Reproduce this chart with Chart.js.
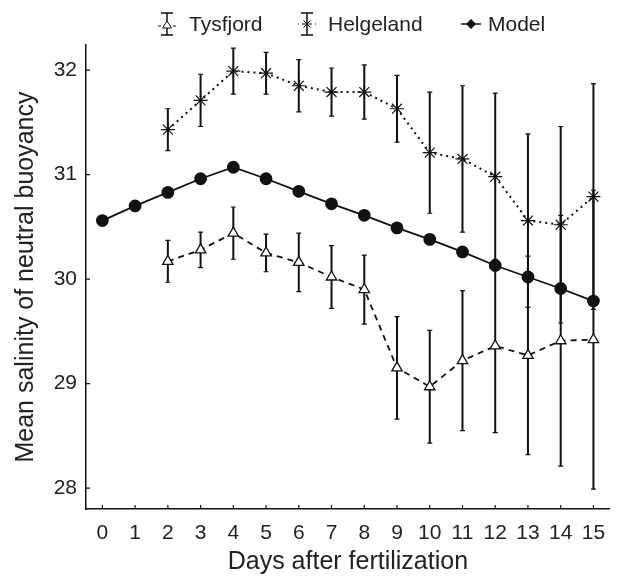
<!DOCTYPE html>
<html>
<head>
<meta charset="utf-8">
<script src="https://cdn.jsdelivr.net/npm/chart.js@4.4.1/dist/chart.umd.min.js"></script>
<style>
  html, body { margin: 0; padding: 0; background: #fff; }
  #wrap { width: 618px; height: 578px; }
</style>
</head>
<body>
<div id="wrap"><canvas id="chart"></canvas></div>
<script>
// values
const modelDays = [0, 1, 2, 3, 4, 5, 6, 7, 8, 9, 10, 11, 12, 13, 14, 15];
const modelMean = [30.56, 30.70, 30.83, 30.96, 31.07, 30.96, 30.84, 30.72, 30.61, 30.49, 30.38, 30.26, 30.13, 30.02, 29.91, 29.79];

const obsDays = [2, 3, 4, 5, 6, 7, 8, 9, 10, 11, 12, 13, 14, 15];
const helgelandMean = [31.43, 31.71, 31.99, 31.97, 31.85, 31.79, 31.79, 31.63, 31.21, 31.15, 30.98, 30.56, 30.52, 30.79];
const helgelandErr  = [0.20, 0.25, 0.22, 0.20, 0.25, 0.23, 0.26, 0.32, 0.58, 0.70, 0.80, 0.83, 0.94, 1.08];
const tysfjordMean  = [30.17, 30.28, 30.44, 30.25, 30.16, 30.02, 29.90, 29.15, 28.97, 29.22, 29.36, 29.27, 29.41, 29.42];
const tysfjordErr   = [0.20, 0.17, 0.25, 0.18, 0.28, 0.30, 0.33, 0.49, 0.54, 0.67, 0.83, 0.95, 1.20, 1.43];

const xTicks = [0, 1, 2, 3, 4, 5, 6, 7, 8, 9, 10, 11, 12, 13, 14, 15];
const yTicks = [28, 29, 30, 31, 32];

const ink = '#111';
const textInk = '#222';
const fontFamily = 'Liberation Sans, Arial, sans-serif';

const toPoints = (xs, ys) => xs.map((x, i) => ({ x: x, y: ys[i] }));

// legend icons drawn straight onto the chart canvas
function drawIcon(g, kind, cx, cy) {
    g.save();
    g.strokeStyle = ink; g.fillStyle = ink; g.lineWidth = 1.5;
    if (kind === 'model') {
        g.beginPath(); g.moveTo(cx - 10, cy); g.lineTo(cx + 10, cy); g.stroke();
        g.beginPath(); g.moveTo(cx, cy - 5); g.lineTo(cx + 5, cy); g.lineTo(cx, cy + 5); g.lineTo(cx - 5, cy); g.closePath(); g.fill();
        g.restore();
        return;
    }
    g.beginPath();
    g.moveTo(cx, cy - 11); g.lineTo(cx, cy + 11);
    g.moveTo(cx - 6, cy - 11); g.lineTo(cx + 6, cy - 11);
    g.moveTo(cx - 6, cy + 11); g.lineTo(cx + 6, cy + 11);
    g.stroke();
    g.lineWidth = 1;
    if (kind === 'triangle') {
        g.fillStyle = '#fff';
        g.beginPath(); g.moveTo(cx, cy - 3); g.lineTo(cx + 4.5, cy + 4); g.lineTo(cx - 4.5, cy + 4); g.closePath(); g.fill(); g.stroke();
        g.beginPath(); g.moveTo(cx - 9, cy + 2); g.lineTo(cx - 6, cy + 2); g.moveTo(cx + 6, cy + 2); g.lineTo(cx + 9, cy + 2); g.stroke();
    } else {
        g.beginPath();
        g.moveTo(cx - 5, cy); g.lineTo(cx + 5, cy);
        g.moveTo(cx - 3.5, cy - 3.5); g.lineTo(cx + 3.5, cy + 3.5);
        g.moveTo(cx + 3.5, cy - 3.5); g.lineTo(cx - 3.5, cy + 3.5);
        g.stroke();
        g.beginPath(); g.moveTo(cx - 9, cy); g.lineTo(cx - 8, cy); g.moveTo(cx + 8, cy); g.lineTo(cx + 9, cy); g.stroke();
    }
    g.restore();
}

const legendSlots = [
    { icon: 167, text: 189 },
    { icon: 307, text: 328 },
    { icon: 471, text: 488 }
];

const topLegend = {
    id: 'topLegend',
    afterDraw(chart) {
        const g = chart.ctx;
        g.save();
        g.font = '21px ' + fontFamily;
        g.fillStyle = textInk;
        g.textBaseline = 'middle';
        g.textAlign = 'left';
        chart.data.datasets.forEach((ds, i) => {
            const slot = legendSlots[i];
            drawIcon(g, ds.legendKind, slot.icon, 24);
            g.fillText(ds.label, slot.text, 25);
        });
        g.restore();
    }
};

// vertical error bars drawn through the chart's scales
const errorBars = {
    id: 'errorBars',
    beforeDatasetsDraw(chart) {
        const { ctx, scales: { x, y } } = chart;
        ctx.save();
        ctx.strokeStyle = ink;
        chart.data.datasets.forEach(ds => {
            if (!ds.errors) return;
            ds.data.forEach((p, j) => {
                const px = x.getPixelForValue(p.x);
                const top = y.getPixelForValue(p.y + ds.errors[j]);
                const bot = y.getPixelForValue(p.y - ds.errors[j]);
                ctx.lineWidth = 2;
                ctx.beginPath(); ctx.moveTo(px, top); ctx.lineTo(px, bot); ctx.stroke();
                ctx.lineWidth = 1.2;
                ctx.beginPath();
                ctx.moveTo(px - 2.5, top); ctx.lineTo(px + 2.5, top);
                ctx.moveTo(px - 2.5, bot); ctx.lineTo(px + 2.5, bot);
                ctx.stroke();
            });
        });
        ctx.restore();
    }
};

// short inward tick marks
const innerTicks = {
    id: 'innerTicks',
    afterDraw(chart) {
        const { ctx, chartArea, scales: { x, y } } = chart;
        ctx.save();
        ctx.strokeStyle = ink; ctx.lineWidth = 1.2;
        ctx.beginPath();
        xTicks.forEach(v => {
            const px = x.getPixelForValue(v);
            ctx.moveTo(px, chartArea.bottom); ctx.lineTo(px, chartArea.bottom - 4);
        });
        yTicks.forEach(v => {
            const py = y.getPixelForValue(v);
            ctx.moveTo(chartArea.left, py); ctx.lineTo(chartArea.left + 4, py);
        });
        ctx.stroke();
        ctx.restore();
    }
};

new Chart(document.getElementById('chart'), {
    type: 'line',
    data: {
        datasets: [
            {
                label: 'Tysfjord',
                legendKind: 'triangle',
                data: toPoints(obsDays, tysfjordMean),
                errors: tysfjordErr,
                borderColor: ink,
                borderWidth: 1.8,
                borderDash: [6, 5],
                pointStyle: 'triangle',
                pointRadius: 6,
                pointBorderWidth: 1.3,
                pointBorderColor: ink,
                pointBackgroundColor: '#fff'
            },
            {
                label: 'Helgeland',
                legendKind: 'star',
                data: toPoints(obsDays, helgelandMean),
                errors: helgelandErr,
                borderColor: ink,
                borderWidth: 2,
                borderDash: [2, 4],
                pointStyle: 'star',
                pointRadius: 7,
                pointBorderWidth: 1.2,
                pointBorderColor: ink
            },
            {
                label: 'Model',
                legendKind: 'model',
                data: toPoints(modelDays, modelMean),
                borderColor: ink,
                borderWidth: 1.8,
                pointStyle: 'circle',
                pointRadius: 5.5,
                pointBackgroundColor: ink,
                pointBorderColor: ink
            }
        ]
    },
    options: {
        responsive: true,
        maintainAspectRatio: false,
        animation: false,
        layout: { padding: { top: 45, right: 4, left: 0, bottom: 0 } },
        plugins: {
            tooltip: { enabled: false },
            legend: { display: false }
        },
        scales: {
            x: {
                type: 'linear',
                min: -0.5,
                max: 15.5,
                afterBuildTicks: axis => { axis.ticks = xTicks.map(v => ({ value: v })); },
                afterFit: axis => { axis.height = 69; },
                grid: { display: false, drawTicks: false },
                border: { display: true, color: ink, width: 1.5 },
                ticks: {
                    padding: 12,
                    color: textInk,
                    maxRotation: 0,
                    autoSkip: false,
                    font: { family: fontFamily, size: 21 }
                },
                title: {
                    display: true,
                    text: 'Days after fertilization',
                    color: textInk,
                    padding: { top: 0, bottom: 1 },
                    font: { family: fontFamily, size: 25 }
                }
            },
            y: {
                min: 27.8,
                max: 32.24,
                afterBuildTicks: axis => { axis.ticks = yTicks.map(v => ({ value: v })); },
                afterFit: axis => { axis.width = 86; },
                grid: { display: false, drawTicks: false },
                border: { display: true, color: ink, width: 1.5 },
                ticks: {
                    padding: 9,
                    color: textInk,
                    font: { family: fontFamily, size: 21 }
                },
                title: {
                    display: true,
                    text: 'Mean salinity of neutral buoyancy',
                    color: textInk,
                    padding: { top: 11, bottom: 0 },
                    font: { family: fontFamily, size: 25 }
                }
            }
        }
    },
    plugins: [errorBars, innerTicks, topLegend]
});
</script>
</body>
</html>
